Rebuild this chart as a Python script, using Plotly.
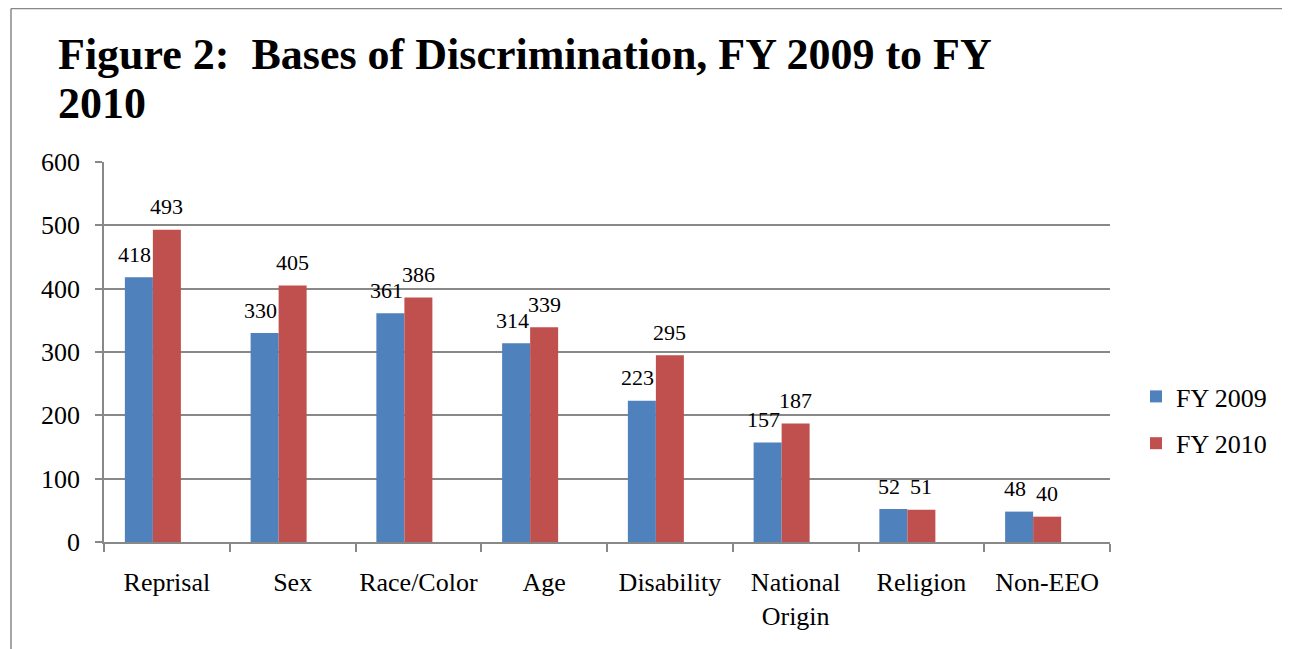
import plotly.graph_objects as go

categories = ["Reprisal", "Sex", "Race/Color", "Age", "Disability", "National<br>Origin", "Religion", "Non-EEO"]
fy2009 = [418, 330, 361, 314, 223, 157, 52, 48]
fy2010 = [493, 405, 386, 339, 295, 187, 51, 40]
series_names = ["FY 2009", "FY 2010"]
title_lines = ["Figure 2:\u00a0 Bases of Discrimination, FY 2009 to FY", "2010"]
yticks = [0, 100, 200, 300, 400, 500, 600]

# page has an 8px body margin; work in page pixels and convert
O = 8
W, H = 1290 - O, 649 - O
L, T = 104 - O, 162 - O
PW, PH = 1006, 380
R, B = W - L - PW, H - T - PH

def px(x):
    return (x - O - L) / PW

def py(y):
    return (T + PH - (y - O)) / PH

FONT = "Liberation Serif, Times New Roman, serif"
GRAY = "#888888"
BLUE = "#4F81BD"
RED = "#C0504D"

fig = go.Figure()
fig.add_trace(go.Bar(x=categories, y=fy2009, name=series_names[0], marker_color=BLUE,
                     marker_line_width=0, offset=-0.334, width=0.2227, legendgroup="a"))
fig.add_trace(go.Bar(x=categories, y=fy2010, name=series_names[1], marker_color=RED,
                     marker_line_width=0, offset=-0.1113, width=0.2227, legendgroup="b"))

annotations = []
for c, v in zip(categories, fy2009):
    annotations.append(dict(x=c, y=v, xref="x", yref="y", text=str(v), showarrow=False,
                            xshift=-32, yshift=23, yanchor="middle",
                            font=dict(family=FONT, size=22, color="black")))
for c, v in zip(categories, fy2010):
    annotations.append(dict(x=c, y=v, xref="x", yref="y", text=str(v), showarrow=False,
                            xshift=0, yshift=23, yanchor="middle",
                            font=dict(family=FONT, size=22, color="black")))
annotations.append(dict(x=px(56), y=py(54), xref="paper", yref="paper", text="<b>" + title_lines[0] + "</b>",
                        showarrow=False, xanchor="left", yanchor="middle",
                        font=dict(family=FONT, size=44, color="black")))
annotations.append(dict(x=px(56), y=py(103), xref="paper", yref="paper", text="<b>" + title_lines[1] + "</b>",
                        showarrow=False, xanchor="left", yanchor="middle",
                        font=dict(family=FONT, size=44, color="black")))

shapes = [
    dict(type="line", xref="paper", yref="paper", x0=px(11), y0=py(8.5), x1=px(11), y1=py(660),
         line=dict(color=GRAY, width=1.5)),
    dict(type="line", xref="paper", yref="paper", x0=px(11), y0=py(8.5), x1=px(1300), y1=py(8.5),
         line=dict(color=GRAY, width=1.5)),
]

fig.update_layout(
    width=W, height=H,
    margin=dict(l=L, r=R, t=T, b=B, autoexpand=False),
    paper_bgcolor="white", plot_bgcolor="white",
    barmode="overlay",
    font=dict(family=FONT, size=26, color="black"),
    showlegend=True,
    legend=dict(x=px(1136), y=py(420), xanchor="left", yanchor="middle",
                font=dict(family=FONT, size=26, color="black"),
                tracegroupgap=10, bgcolor="rgba(0,0,0,0)"),
    annotations=annotations,
    shapes=shapes,
    xaxis=dict(type="category", showline=True, linecolor=GRAY, linewidth=1.5,
               ticks="outside", ticklen=8, tickwidth=1.5, tickcolor=GRAY,
               tickson="boundaries", showgrid=False, ticklabelstandoff=16, tickangle=0,
               tickfont=dict(family=FONT, size=26, color="black"), range=[-0.5, 7.5]),
    yaxis=dict(range=[0, 600], tickvals=yticks, showline=True, linecolor=GRAY, linewidth=1.5,
               ticks="outside", ticklen=7, tickwidth=1.5, tickcolor=GRAY,
               showgrid=True, gridcolor=GRAY, gridwidth=1.5, zeroline=False,
               ticklabelstandoff=10, tickfont=dict(family=FONT, size=26, color="black")),
)

fig.write_html("out.html")
